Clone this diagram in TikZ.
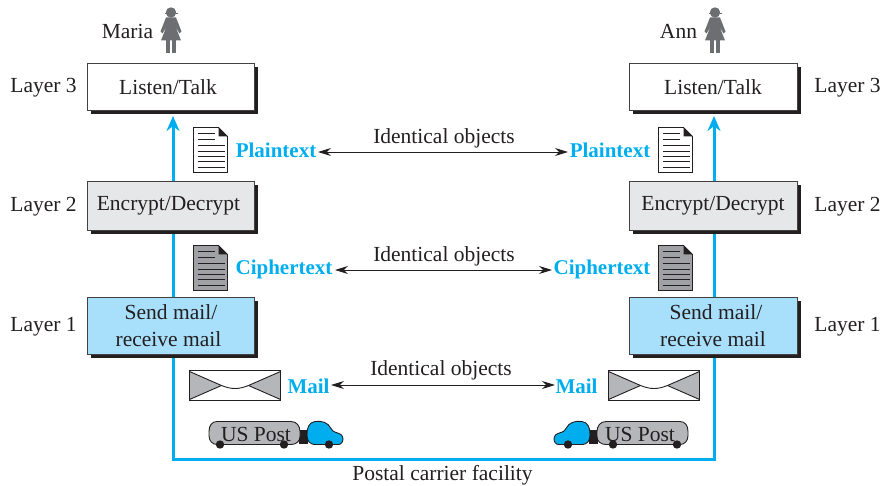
\documentclass[tikz,border=0pt]{standalone}
\usepackage{fontspec}
\setmainfont{Liberation Serif}
\usetikzlibrary{arrows.meta}
\definecolor{ink}{HTML}{231F20}
\definecolor{cy}{HTML}{00AEEF}
\definecolor{lblue}{HTML}{A8DFFA}
\definecolor{lgray}{HTML}{E6E7E8}
\definecolor{mgray}{HTML}{B5B6B9}
\definecolor{dgray}{HTML}{A0A1A4}
\definecolor{pgray}{HTML}{6D6E71}
\tikzset{
 layerbox/.style={draw=ink!85,line width=1pt,inner sep=0pt,align=center,font=\fontsize{21.5}{27}\selectfont,text=ink},
 lab/.style={font=\fontsize{21.5}{25}\selectfont,text=ink,inner sep=0pt},
 blue/.style={font=\fontsize{21}{25}\selectfont\bfseries,text=cy,inner sep=0pt},
 dbl/.style={draw=ink,line width=0.9pt,{Stealth[length=13pt,width=8pt]}-{Stealth[length=13pt,width=8pt]}},
 bluel/.style={draw=cy,line width=3pt},
 pics/person/.style={code={
  \fill[pgray] (0,-20) circle (5.2);
  \fill[pgray] (-6.5,-19.8) rectangle (6.5,-18.4);
  \fill[pgray] (-5,-15) -- (5,-15) -- (10.5,-1) -- (8.5,1) -- (4.5,-6) -- (10,8) -- (-10,8) -- (-4.5,-6) -- (-8.5,1) -- (-10.5,-1) -- cycle;
  \fill[pgray] (-5,8) rectangle (-1,20.5);
  \fill[pgray] (1,8) rectangle (5,20.5);
 }},
 pics/docicon/.style={code={
  \fill[#1,draw=ink,line width=0.9pt] (0,0) -- (25,0) -- (34,9) -- (34,45) -- (0,45) -- cycle;
  \fill[ink] (25,0) -- (34,9) -- (25,9) -- cycle;
  \foreach \y/\x in {6/21,12/21,18/31,24/31,29/31,34/31,40/31} \draw[ink,line width=0.9pt] (4,\y) -- (\x,\y);
 }},
 pics/envelope/.style={code={
  \fill[white] (0,0) rectangle (91,30);
  \fill[mgray] (0,1) -- (32,15) -- (0,29) -- cycle;
  \fill[mgray] (91,1) -- (59,15) -- (91,29) -- cycle;
  \draw[ink,line width=0.9pt] (0,1) -- (32,15) .. controls (42,19) and (49,19) .. (59,15) -- (91,1);
  \draw[ink,line width=0.9pt] (0,29) -- (32,15) (91,29) -- (59,15);
  \draw[ink,line width=1.3pt] (0,0) rectangle (91,30);
 }},
 pics/truck/.style={code={
  \fill[ink] (90,8) rectangle (99,22);
  \fill[mgray,draw=ink,line width=0.9pt] (8,0) -- (82,0) .. controls (88,0) and (91,5) .. (91,10) -- (91,15) .. controls (91,20) and (87,23) .. (82,23) -- (8,23) .. controls (3,23) and (0,19) .. (0,14) -- (0,10) .. controls (0,4) and (3,0) .. (8,0) -- cycle;
  \fill[cy,draw=ink,line width=0.9pt] (106,0) .. controls (113,-1) and (119,1) .. (122,7) .. controls (124,11) and (128,11) .. (130,12) .. controls (134,13) and (135,18) .. (133,21) .. controls (132,23) and (130,23) .. (128,23) -- (107,23) .. controls (100,23) and (98,19) .. (98,13) .. controls (98,6) and (100,1) .. (106,0) -- cycle;
  \fill[ink] (11,23) circle (4.2) (75,23) circle (4.2) (120,23) circle (4.2);
 }},
}
\begin{document}
\begin{tikzpicture}[x=1pt,y=-1pt]
\useasboundingbox (0,0) rectangle (884,486);
\coordinate (lb) at (173,459.5); \coordinate (rb) at (714,459.5);
\coordinate (lt) at (173,116); \coordinate (rt) at (714,116);
\draw[bluel,-{Stealth[length=15pt,width=13pt]}] (lb) -- (lt);
\draw[bluel,-{Stealth[length=15pt,width=13pt]}] (rb) -- (rt);
\draw[bluel,line cap=rect] (lb) -- (rb);
\foreach \a/\b/\c/\d in {87/63.5/254/110.5,87/181.5/254/230.5,87/297.5/254/354.5,629/63.5/797/110.5,629/181.5/797/230.5,629/297.5/797/354.5}
  \fill[ink] (\a+4,\b+4) rectangle (\c+4,\d+4);
\node[layerbox,fill=white,minimum width=167pt,minimum height=47pt] (l3) at (170.5,87) {\hspace{-5pt}\raisebox{-.5pt}{Listen/Talk}};
\node[layerbox,fill=lgray,minimum width=167pt,minimum height=49pt] (l2) at (170.5,206) {\hspace{-4pt}\raisebox{-.5pt}{Encrypt/Decrypt}};
\node[layerbox,fill=lblue,minimum width=167pt,minimum height=57pt] (l1) at (170.5,326) {\hspace{1pt}Send mail/\\\hspace{-4pt}receive mail};
\node[layerbox,fill=white,minimum width=168pt,minimum height=47pt] (r3) at (713,87) {\raisebox{-.5pt}{Listen/Talk}};
\node[layerbox,fill=lgray,minimum width=168pt,minimum height=49pt] (r2) at (713,206) {\raisebox{-.5pt}{Encrypt/Decrypt}};
\node[layerbox,fill=lblue,minimum width=168pt,minimum height=57pt] (r1) at (713,326) {\hspace{6pt}Send mail/\\receive mail};
\node[lab] at (43.5,87.5) {Layer 3};
\node[lab] at (43.5,206.5) {Layer 2};
\node[lab] at (43.5,326.5) {Layer 1};
\node[lab] at (847.5,87.5) {Layer 3};
\node[lab] at (847.5,206.5) {Layer 2};
\node[lab] at (847.5,326.5) {Layer 1};
\node[lab] (maria) at (127.5,31) {Maria};
\node[lab] (ann) at (678.5,31) {Ann};
\pic at (171,32.5) {person};
\pic at (715,32.5) {person};
\pic at (193.5,127.5) {docicon=white};
\pic at (658.5,127.5) {docicon=white};
\pic at (193.5,245.5) {docicon=dgray};
\pic at (658.5,245.5) {docicon=dgray};
\node[blue] (pl) at (276,150) {Plaintext};
\node[blue] (pr) at (610,150) {Plaintext};
\node[blue] (cl) at (284,269) {Ciphertext};
\node[blue] (cr) at (602,269) {Ciphertext};
\node[blue] (ml) at (308.5,386) {Mail};
\node[blue] (mr) at (576.5,386) {Mail};
\coordinate (pla) at (318,152); \coordinate (pra) at (568,152);
\coordinate (cla) at (335,270); \coordinate (cra) at (552,270);
\coordinate (mla) at (331,385); \coordinate (mra) at (555,385);
\draw[dbl] (pla) -- (pra);
\draw[dbl] (cla) -- (cra);
\draw[dbl] (mla) -- (mra);
\node[lab] (i3) at (444,138.5) {Identical objects};
\node[lab] (i2) at (444,256.5) {Identical objects};
\node[lab] (i1) at (441,370.5) {Identical objects};
\pic at (189.5,370.5) {envelope};
\pic at (608.5,370.5) {envelope};
\pic at (209,421.5) {truck};
\pic[xscale=-1] at (688,421.5) {truck};
\node[lab] (usl) at (256,434) {US Post};
\node[lab] (usr) at (640,434) {US Post};
\node[lab] (pc) at (442.5,475.5) {Postal carrier facility};
\end{tikzpicture}
\end{document}
